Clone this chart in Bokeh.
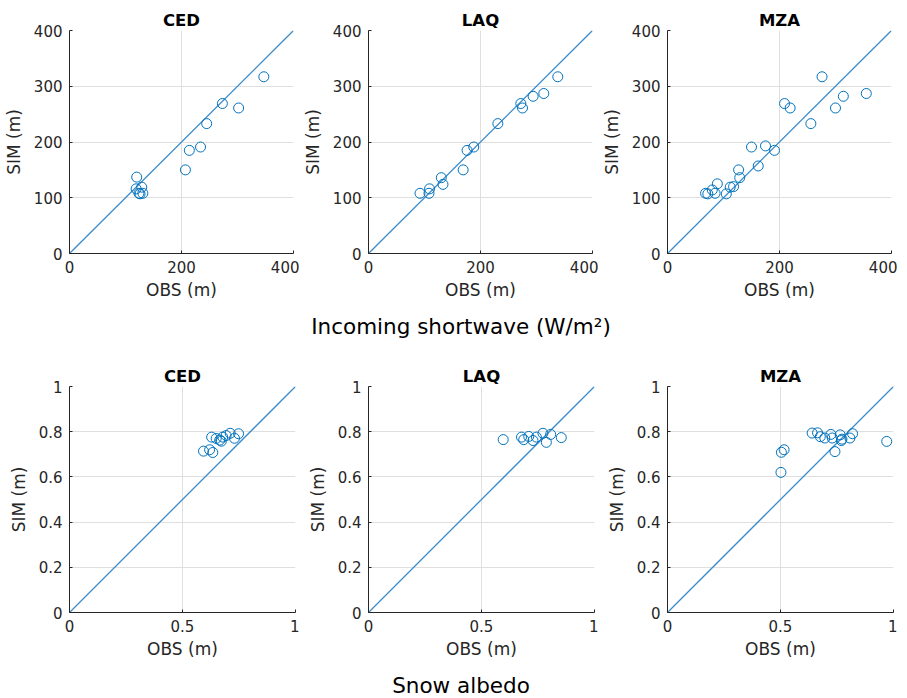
from bokeh.plotting import figure
from bokeh.models import Range1d, FixedTicker, NumeralTickFormatter, Div
from bokeh.layouts import row, column
from bokeh.embed import file_html
from bokeh.resources import INLINE

# ---------------- data ----------------
stations = ["CED", "LAQ", "MZA"]

# Incoming shortwave (W/m2)
ced_sw_obs = [347, 273, 302, 245, 214, 234, 207, 120, 119, 129, 124, 131, 126]
ced_sw_sim = [317, 269, 261, 233, 185, 191, 150, 137, 116, 119, 108, 108, 107]

laq_sw_obs = [338, 313, 294, 272, 275, 231, 188, 176, 169, 130, 133, 109, 108, 92]
laq_sw_sim = [317, 287, 282, 269, 261, 233, 191, 185, 150, 136, 124, 116, 108, 108]

mza_sw_obs = [276, 355, 314, 209, 219, 300, 256, 150, 175, 191, 162, 127,
              68, 72, 80, 89, 85, 105, 112, 118, 129]
mza_sw_sim = [317, 287, 282, 269, 261, 261, 233, 191, 193, 185, 157, 150,
              108, 107, 114, 125, 108, 107, 119, 120, 136]

# Snow albedo (-)
ced_al_obs = [0.593, 0.620, 0.634, 0.629, 0.649, 0.665, 0.678, 0.693, 0.711, 0.730, 0.748, 0.672]
ced_al_sim = [0.714, 0.720, 0.708, 0.776, 0.770, 0.763, 0.776, 0.783, 0.793, 0.771, 0.791, 0.758]

laq_al_obs = [0.596, 0.677, 0.687, 0.709, 0.728, 0.743, 0.772, 0.787, 0.806, 0.853]
laq_al_sim = [0.765, 0.776, 0.765, 0.779, 0.761, 0.776, 0.793, 0.753, 0.788, 0.774]

mza_al_obs = [0.504, 0.516, 0.502, 0.640, 0.664, 0.676, 0.696, 0.723, 0.729, 0.741,
              0.764, 0.769, 0.772, 0.807, 0.819, 0.970]
mza_al_sim = [0.709, 0.720, 0.620, 0.794, 0.795, 0.778, 0.772, 0.788, 0.772, 0.712,
              0.786, 0.761, 0.767, 0.772, 0.791, 0.757]

# 1:1 reference lines and axis ticks
sw_diag = [0, 400]
al_diag = [0, 1]
sw_xticks = [0, 200, 400]
sw_yticks = [0, 100, 200, 300, 400]
al_xticks = [0, 0.5, 1]
al_yticks = [0, 0.2, 0.4, 0.6, 0.8, 1]

sw_title = "Incoming shortwave (W/m\u00b2)"
al_title = "Snow albedo"
x_label = "OBS (m)"
y_label = "SIM (m)"

# ---------------- style ----------------
BLUE = "#0072BD"
DIAG_BLUE = "#3a8bcc"
AX = "#262626"
GRID = "#dfdfdf"
FONT = "DejaVu Sans"


def panel(title, obs, sim, diag, xticks, yticks, fw, fh, mbl, mbr, mbt, mbb, fmt):
    p = figure(frame_width=fw, frame_height=fh,
               x_range=Range1d(diag[0], diag[1]), y_range=Range1d(diag[0], diag[1]),
               output_backend="svg", toolbar_location=None,
               min_border_left=mbl, min_border_right=mbr,
               min_border_top=mbt, min_border_bottom=mbb, title=title)
    p.outline_line_color = None
    p.background_fill_color = "white"
    p.border_fill_color = "white"
    p.title.align = "center"
    p.title.text_font = FONT
    p.title.text_font_size = "16.5px"
    p.title.text_font_style = "bold"
    p.title.text_color = "black"
    p.title.standoff = 2

    # 1:1 line
    p.line(x=list(diag), y=list(diag), line_color=DIAG_BLUE, line_width=1.3)
    p.scatter(x=list(obs), y=list(sim), marker="circle", size=10, fill_color=None,
              line_color=BLUE, line_width=1)

    p.xaxis.ticker = FixedTicker(ticks=xticks)
    p.yaxis.ticker = FixedTicker(ticks=yticks)
    for ax in (p.xaxis[0], p.yaxis[0]):
        ax.formatter = NumeralTickFormatter(format=fmt)
        ax.major_tick_in = 3
        ax.major_tick_out = 0
        ax.minor_tick_line_color = None
        ax.axis_line_color = AX
        ax.major_tick_line_color = AX
        ax.major_label_text_font = FONT
        ax.major_label_text_font_size = "15px"
        ax.major_label_text_color = AX
        ax.axis_label_text_font = FONT
        ax.axis_label_text_font_size = "17px"
        ax.axis_label_text_font_style = "normal"
        ax.axis_label_text_color = AX
        ax.major_label_standoff = 7
    p.xaxis.axis_label = x_label
    p.yaxis.axis_label = y_label
    p.xaxis.axis_label_standoff = 4
    p.yaxis.axis_label_standoff = 7
    p.xgrid.grid_line_color = GRID
    p.ygrid.grid_line_color = GRID
    return p


sw_data = [(ced_sw_obs, ced_sw_sim), (laq_sw_obs, laq_sw_sim), (mza_sw_obs, mza_sw_sim)]
al_data = [(ced_al_obs, ced_al_sim), (laq_al_obs, laq_al_sim), (mza_al_obs, mza_al_sim)]

top = []
for st, (o, s) in zip(stations, sw_data):
    top.append(panel(st, o, s, sw_diag, sw_xticks, sw_yticks, 224, 223, 69, 6, 30, 54, "0"))

bot = []
for st, (o, s) in zip(stations, al_data):
    bot.append(panel(st, o, s, al_diag, al_xticks, al_yticks, 226, 226, 69, 4, 34, 50, "0.[0]"))


def supertitle(text, h, pad_top, lh):
    html = ('<div style="width:897px;text-align:center;padding-left:25px;box-sizing:border-box;'
            'font-family:\'DejaVu Sans\';font-size:21.5px;color:#000;'
            f'padding-top:{pad_top}px;line-height:{lh}px;white-space:nowrap;">{text}</div>')
    return Div(text=html, width=897, height=h, margin=(0, 0, 0, 0))


layout = column(row(*top), supertitle(sw_title, 45, 8, 24),
                row(*bot), supertitle(al_title, 36, 12, 24))

open("out.html", "w").write(file_html(layout, INLINE))
